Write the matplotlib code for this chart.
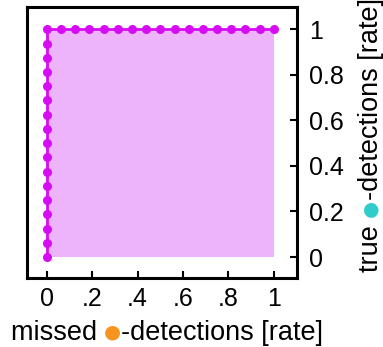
import matplotlib
matplotlib.use("Agg")
import matplotlib.pyplot as plt

# ROC points: missed rate (x) vs true rate (y)
missed_rate = [0, 0, 0, 0, 0, 0, 0, 0, 0, 0, 0, 0, 0, 0, 0, 0, 0,
               0.0625, 0.125, 0.1875, 0.25, 0.3125, 0.375, 0.4375, 0.5,
               0.5625, 0.625, 0.6875, 0.75, 0.8125, 0.875, 0.9375, 1]
true_rate = [0, 0.0625, 0.125, 0.1875, 0.25, 0.3125, 0.375, 0.4375, 0.5,
             0.5625, 0.625, 0.6875, 0.75, 0.8125, 0.875, 0.9375, 1,
             1, 1, 1, 1, 1, 1, 1, 1, 1, 1, 1, 1, 1, 1, 1, 1]

x_ticks = [0, 0.2, 0.4, 0.6, 0.8, 1]
x_tick_labels = ["0", ".2", ".4", ".6", ".8", "1"]
y_ticks = [0, 0.2, 0.4, 0.6, 0.8, 1]
y_tick_labels = ["0", "0.2", "0.4", "0.6", "0.8", "1"]

LINE = "#d60cf2"
FILL = "#eeb4fb"
ORANGE = "#f7941d"
CYAN = "#2fcccc"

plt.rcParams['font.family'] = ['Liberation Sans', 'DejaVu Sans']

fig = plt.figure(figsize=(3.83, 3.47), dpi=100)
ax = fig.add_axes([26.5 / 383, 1 - 277.5 / 347, 270 / 383, 271 / 347])

# filled area under the curve
ax.fill(missed_rate + [1], true_rate + [0], color=FILL, lw=0, zorder=1)
ax.plot(missed_rate, true_rate, '-o', color=LINE, lw=2, ms=5.5, zorder=2)

ax.set_xlim(-0.09, 1.1)
ax.set_ylim(-0.09, 1.1)

for s in ax.spines.values():
    s.set_linewidth(2.2)

ax.set_xticks(x_ticks)
ax.set_xticklabels(x_tick_labels)
ax.set_yticks(y_ticks)
ax.set_yticklabels(y_tick_labels)
ax.yaxis.tick_right()
ax.tick_params(direction='in', length=5, width=1.5, labelsize=18, pad=7)
ax.tick_params(axis='y', pad=9)

# labels with a coloured dot inside, drawn piece by piece
fig.canvas.draw()
r = fig.canvas.get_renderer()
W, H = fig.bbox.width, fig.bbox.height


def chain_text(parts, x, y, vertical=False, size=19.5):
    objs = []
    for txt, col, fam, fs, lift in parts:
        t = fig.text(0, 0, txt, color=col, fontsize=fs or size,
                     family=fam, rotation=90 if vertical else 0,
                     rotation_mode='anchor',
                     ha='left', va='baseline')
        objs.append((t, lift))
    sizes = []
    for t, _ in objs:
        bb = t.get_window_extent(r)
        sizes.append(bb.height if vertical else bb.width)
    total = sum(sizes)
    if vertical:
        pos = y * H - total / 2
        for (t, lift), sz in zip(objs, sizes):
            t.set_position((x - lift / W, pos / H))
            pos += sz
    else:
        pos = x * W - total / 2
        for (t, lift), sz in zip(objs, sizes):
            t.set_position((pos / W, y + lift / H))
            pos += sz


txt_font = ['Liberation Sans', 'DejaVu Sans']
dot_font = ['DejaVu Sans']
chain_text([("missed ", "black", txt_font, None, 0), ("●", ORANGE, dot_font, 14, 3),
            ("-detections [rate]", "black", txt_font, None, 0)],
           167 / 383, 1 - 340 / 347)
chain_text([("true ", "black", txt_font, None, 0), ("●", CYAN, dot_font, 14, 3),
            ("-detections [rate]", "black", txt_font, None, 0)],
           378 / 383, 1 - 135 / 347, vertical=True)

fig.savefig("out.png", dpi=100)
